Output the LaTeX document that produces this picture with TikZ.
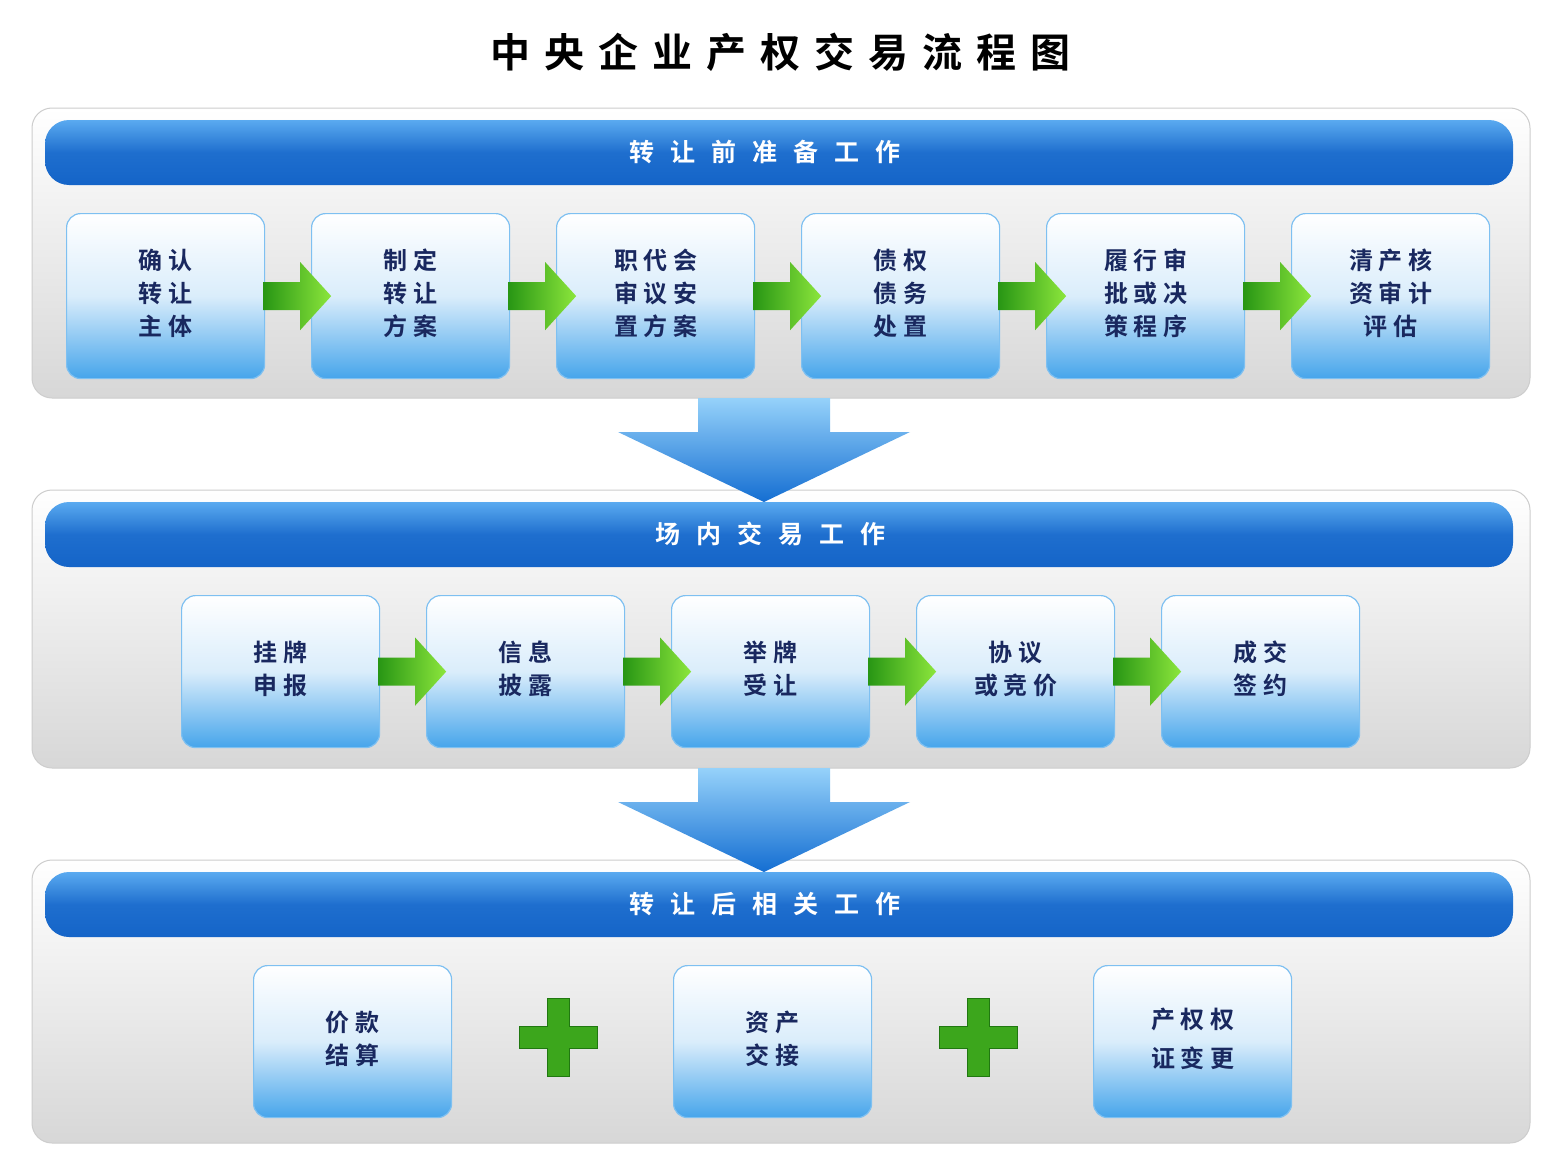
\documentclass[tikz,border=0pt]{standalone}
\usepackage{fontspec}
\setmainfont{Noto Sans CJK SC}[BoldFont={* Bold}]
\usetikzlibrary{calc}
\definecolor{navy}{RGB}{25,40,95}
\definecolor{bbar}{RGB}{20,100,200}
\definecolor{bbarL}{RGB}{90,170,240}
\definecolor{boxB}{RGB}{70,165,235}
\definecolor{gD}{RGB}{40,150,20}
\definecolor{gL}{RGB}{140,230,60}
\newcommand{\bs}{\hspace{16pt}}
\tikzset{
 panel/.style={draw={rgb,255:red,205;green,205;blue,205},line width=1pt,rounded corners=20pt,top color=white,bottom color={rgb,255:red,215;green,215;blue,215}},
 bar/.style={rounded corners=24pt,top color=bbarL,bottom color=bbar,middle color=bbar!85!bbarL},
 bartext/.style={text=white,font=\bfseries\fontsize{25}{30}\selectfont},
 box/.style={draw=boxB!70,line width=1.2pt,rounded corners=14pt,minimum width=198pt,minimum height=165pt,top color=white,bottom color=boxB,middle color=white!80!boxB,shading angle=0,align=center,text=navy,font=\bfseries\fontsize{24}{33}\selectfont,anchor=north west,inner sep=0pt,text depth=8pt},
 sbox/.style={box,minimum height=152pt},
 garrow/.style={left color=gD,right color=gL},
 darrow/.style={top color={rgb,255:red,150;green,210;blue,250},bottom color={rgb,255:red,20;green,110;blue,210}},
 plus/.style={fill=gD!80!gL,draw=gD!80!black,line width=0.6pt}
}
\newcommand{\garr}[2]{%
 \path[garrow] ($(#1.east)+(-2,-14)$) -- ++(37,0) -- ++(0,-20) -- ($(#1.east)+(66,0)$) -- ($(#1.east)+(35,34)$) -- ++(0,-20) -- ($(#1.east)+(-2,14)$) -- cycle;}
\newcommand{\darr}[2]{%
 \path[darrow] (#1,#2) -- ++(132,0) -- ++(0,34) -- ++(80,0) -- ++(-146,70) -- ++(-146,-70) -- ++(80,0) -- cycle;}
\newcommand{\plusat}[2]{%
 \path[plus] (#1-11,#2-39) -- ++(22,0) -- ++(0,28) -- ++(28,0) -- ++(0,22) -- ++(-28,0) -- ++(0,28) -- ++(-22,0) -- ++(0,-28) -- ++(-28,0) -- ++(0,-22) -- ++(28,0) -- cycle;}
\begin{document}
\begin{tikzpicture}[x=1pt,y=-1pt]
\useasboundingbox[fill=white] (0,0) rectangle (1550,1172);
\node[font=\bfseries\fontsize{40}{44}\selectfont] (title) at (780,52) {中\hspace{14pt}央\hspace{14pt}企\hspace{14pt}业\hspace{14pt}产\hspace{14pt}权\hspace{14pt}交\hspace{14pt}易\hspace{14pt}流\hspace{14pt}程\hspace{14pt}图};
% panels
\path[panel] (32,108) rectangle (1530,398);
\path[panel] (32,490) rectangle (1530,768);
\path[panel] (32,860) rectangle (1530,1143);
\darr{698}{398}
\darr{698}{768}
% bars
\path[bar] (45,120) rectangle (1513,185);
\node[bartext] (h1) at (765,152) {转\bs 让\bs 前\bs 准\bs 备\bs 工\bs 作};
\path[bar] (45,502) rectangle (1513,567);
\node[bartext] (h2) at (770,534) {场\bs 内\bs 交\bs 易\bs 工\bs 作};
\path[bar] (45,872) rectangle (1513,937);
\node[bartext] (h3) at (765,904) {转\bs 让\bs 后\bs 相\bs 关\bs 工\bs 作};
% row 1
\node[box] (a1) at (66,213) {确\ 认\\转\ 让\\主\ 体};
\node[box] (a2) at (311,213) {制\ 定\\转\ 让\\方\ 案};
\node[box] (a3) at (556,213) {职\ 代\ 会\\审\ 议\ 安\\置\ 方\ 案};
\node[box] (a4) at (801,213) {债\ 权\\债\ 务\\处\ 置};
\node[box] (a5) at (1046,213) {履\ 行\ 审\\批\ 或\ 决\\策\ 程\ 序};
\node[box] (a6) at (1291,213) {清\ 产\ 核\\资\ 审\ 计\\评\ 估};
\garr{a1}{a2}\garr{a2}{a3}\garr{a3}{a4}\garr{a4}{a5}\garr{a5}{a6}
% row 2
\node[sbox] (b1) at (181,595) {挂\ 牌\\申\ 报};
\node[sbox] (b2) at (426,595) {信\ 息\\披\ 露};
\node[sbox] (b3) at (671,595) {举\ 牌\\受\ 让};
\node[sbox] (b4) at (916,595) {协\ 议\\或\ 竞\ 价};
\node[sbox] (b5) at (1161,595) {成\ 交\\签\ 约};
\garr{b1}{b2}\garr{b2}{b3}\garr{b3}{b4}\garr{b4}{b5}
% row 3
\node[sbox] (c1) at (253,965) {价\ 款\\结\ 算};
\node[sbox] (c2) at (673,965) {资\ 产\\交\ 接};
\node[sbox] (c3) at (1093,965) {产\ 权\ 权\\[6pt]证\ 变\ 更};
\plusat{558}{1037}
\plusat{978}{1037}
\end{tikzpicture}
\end{document}
